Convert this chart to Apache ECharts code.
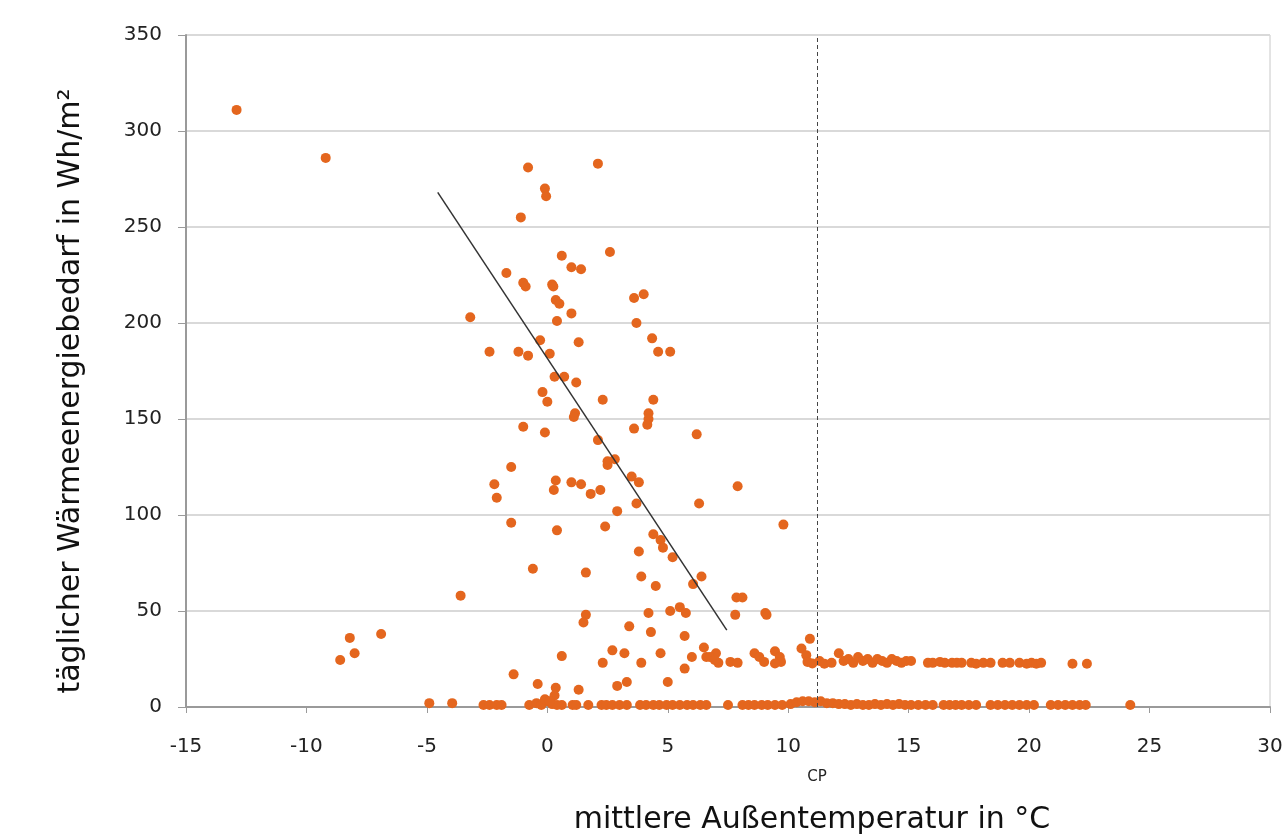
<!DOCTYPE html>
<html>
<head>
<meta charset="utf-8">
<script src="https://cdn.jsdelivr.net/npm/echarts@6/dist/echarts.min.js"></script>
<style>
  html, body { margin: 0; padding: 0; background: #fff; }
  #chart { width: 1286px; height: 840px; }
</style>
</head>
<body>
<div id="chart"></div>
<script>
// Tage mit deutlichem Heizbedarf [Temperatur °C, Wh/m²]
const heatingDays = [
  [-12.9, 311], [-9.2, 286], [-0.8, 281], [2.1, 283], [-0.1, 270], [-0.05, 266], [-1.1, 255],
  [2.6, 237], [0.6, 235], [1.0, 229], [1.4, 228], [-1.7, 226], [-1.0, 221], [-0.9, 219],
  [0.2, 220], [0.25, 219], [3.6, 213], [4.0, 215], [0.35, 212], [0.5, 210], [1.0, 205],
  [-3.2, 203], [0.4, 201], [3.7, 200], [-0.3, 191], [1.3, 190], [4.35, 192], [4.6, 185],
  [5.1, 185], [-2.4, 185], [-1.2, 185], [-0.8, 183], [0.1, 184], [0.3, 172], [0.7, 172],
  [1.2, 169], [-0.2, 164], [0.0, 159], [2.3, 160], [4.4, 160], [1.15, 153], [1.1, 151],
  [4.2, 153], [4.2, 150], [4.15, 147], [3.6, 145], [-1.0, 146], [-0.1, 143], [6.2, 142],
  [2.1, 139], [2.8, 129], [2.5, 126], [2.5, 128], [-1.5, 125], [-2.2, 116], [-2.1, 109],
  [0.35, 118], [0.27, 113], [1.0, 117], [1.4, 116], [1.8, 111], [2.2, 113], [3.5, 120],
  [3.8, 117], [7.9, 115], [3.7, 106], [6.3, 106], [2.9, 102], [-1.5, 96], [9.8, 95],
  [0.4, 92], [2.4, 94], [4.4, 90], [4.7, 87], [4.8, 83], [5.2, 78], [3.8, 81], [-0.6, 72],
  [1.6, 70], [3.9, 68], [6.4, 68], [4.5, 63], [6.05, 64], [7.85, 57], [8.1, 57], [7.8, 48],
  [9.05, 49], [9.1, 48], [-3.6, 58], [1.6, 48], [1.5, 44], [4.2, 49], [5.1, 50], [5.5, 52],
  [5.75, 49], [3.4, 42], [4.3, 39], [5.7, 37], [6.5, 31], [0.6, 26.5], [2.7, 29.5],
  [3.2, 28], [4.7, 28], [6.0, 26], [6.6, 26], [7.0, 28], [7.1, 23], [2.3, 23], [3.9, 23],
  [5.7, 20], [7.6, 23.5], [7.9, 23], [-1.4, 17], [-0.4, 12], [0.35, 10], [1.3, 9],
  [2.9, 11], [3.3, 13], [5.0, 13], [-8.2, 36], [-8.0, 28], [-8.6, 24.5], [-6.9, 38],
  [6.75, 26], [6.95, 24.5], [8.6, 28], [8.8, 26], [9.0, 23.5], [9.45, 29], [9.65, 26],
  [9.7, 23.5], [9.45, 22.7], [10.9, 35.5], [10.55, 30.5], [10.75, 27], [10.8, 23.5],
  [11.0, 22.7], [12.1, 28], [-0.1, 4], [0.3, 6], [0.1, 3]
];

// Grundlast-Band um ca. 23 Wh/m²
const baseLoadDays = [
  [11.3, 24], [11.5, 22.5], [11.8, 23], [12.3, 24], [12.5, 25], [12.7, 23], [12.9, 26],
  [13.1, 24], [13.3, 25], [13.5, 23], [13.7, 25], [13.9, 24], [14.1, 23], [14.3, 25],
  [14.5, 24], [14.7, 23], [14.9, 24], [15.1, 24], [15.8, 23], [16.0, 23], [16.3, 23.5],
  [16.5, 23], [16.8, 23], [17.0, 23], [17.2, 23], [17.6, 23], [17.8, 22.5], [18.1, 23],
  [18.4, 23], [18.9, 23], [19.2, 23], [19.6, 23], [19.9, 22.5], [20.1, 23], [20.3, 22.5],
  [20.5, 23], [21.8, 22.5], [22.4, 22.5]
];

// Tage ohne Heizbedarf
const zeroDays = [
  [-4.9, 2], [-3.95, 2], [-2.65, 1], [-2.4, 1], [-2.1, 1], [-1.9, 1], [-0.75, 1], [-0.45, 2],
  [-0.25, 1], [0.0, 3], [0.2, 1.5], [0.4, 1], [0.6, 1], [1.05, 1], [1.2, 1], [1.7, 1],
  [2.25, 1], [2.45, 1], [2.7, 1], [3.0, 1], [3.3, 1], [3.85, 1], [4.1, 1], [4.4, 1],
  [4.65, 1], [4.95, 1], [5.2, 1], [5.5, 1], [5.8, 1], [6.05, 1], [6.35, 1], [6.6, 1],
  [7.5, 1], [8.1, 1], [8.35, 1], [8.6, 1], [8.9, 1], [9.15, 1], [9.45, 1], [9.75, 1],
  [10.1, 1.5], [10.35, 2.5], [10.6, 3], [10.85, 3], [11.1, 2.5], [11.35, 3], [11.6, 2],
  [11.85, 2], [12.1, 1.5], [12.35, 1.5], [12.6, 1], [12.85, 1.5], [13.1, 1], [13.35, 1],
  [13.6, 1.5], [13.85, 1], [14.1, 1.5], [14.35, 1], [14.6, 1.5], [14.85, 1], [15.1, 1],
  [15.4, 1], [15.7, 1], [16.0, 1], [16.45, 1], [16.7, 1], [16.95, 1], [17.2, 1], [17.5, 1],
  [17.8, 1], [18.4, 1], [18.7, 1], [19.0, 1], [19.3, 1], [19.6, 1], [19.9, 1], [20.2, 1],
  [20.9, 1], [21.2, 1], [21.5, 1], [21.8, 1], [22.1, 1], [22.35, 1], [24.2, 1]
];

// Regressionsgerade und Heizgrenze (CP)
const trendLine = [[-4.55, 268], [7.45, 40]];
const changePoint = 11.2;

const dotColor = '#e4661e';
const labelFont = 'DejaVu Sans';

const chart = echarts.init(document.getElementById('chart'));

const dotSeries = (data) => ({
  type: 'scatter',
  data: data,
  symbolSize: 10,
  itemStyle: { color: dotColor, opacity: 1 },
  silent: true
});

chart.setOption({
  animation: false,
  grid: {
    left: 186,
    right: 16,
    top: 35,
    bottom: 126,
    show: true,
    borderColor: '#c8c8c8',
    borderWidth: 1
  },
  xAxis: {
    type: 'value',
    min: -15,
    max: 30,
    interval: 5,
    name: 'mittlere Außentemperatur in °C',
    nameLocation: 'middle',
    nameGap: 98,
    // Titel sitzt im Original rechts von der Mitte
    nameTextStyle: { fontFamily: labelFont, fontSize: 30, color: '#111', padding: [0, 0, 0, 168] },
    axisLine: { show: true, onZero: false, lineStyle: { color: '#9a9a9a', width: 2 } },
    axisTick: { show: true, length: 6, lineStyle: { color: '#9a9a9a', width: 1 } },
    axisLabel: { fontFamily: labelFont, fontSize: 20, color: '#222', margin: 30 },
    splitLine: { show: false }
  },
  yAxis: {
    type: 'value',
    min: 0,
    max: 350,
    interval: 50,
    name: 'täglicher Wärmeenergiebedarf in Wh/m²',
    nameLocation: 'middle',
    nameGap: 100,
    nameTextStyle: { fontFamily: labelFont, fontSize: 30, color: '#111', padding: [0, 40, 0, 0] },
    axisLine: { show: true, onZero: false, lineStyle: { color: '#9a9a9a', width: 2 } },
    axisTick: { show: true, length: 8, lineStyle: { color: '#9a9a9a', width: 1 } },
    axisLabel: { fontFamily: labelFont, fontSize: 20, color: '#222', margin: 24 },
    splitLine: { show: true, lineStyle: { color: '#d9d9d9', width: 2 } }
  },
  series: [
    dotSeries(zeroDays),
    dotSeries(baseLoadDays),
    Object.assign(dotSeries(heatingDays), {
      markLine: {
        silent: true,
        symbol: 'none',
        lineStyle: { color: '#444', type: [4, 3], width: 1 },
        label: {
          show: true,
          position: 'start',
          distance: 63,
          formatter: 'CP',
          fontFamily: labelFont,
          fontSize: 15,
          color: '#222'
        },
        data: [{ xAxis: changePoint }]
      }
    }),
    {
      type: 'line',
      data: trendLine,
      showSymbol: false,
      symbol: 'none',
      lineStyle: { color: '#333', width: 1.5 },
      silent: true,
      z: 3
    }
  ]
});
</script>
</body>
</html>
